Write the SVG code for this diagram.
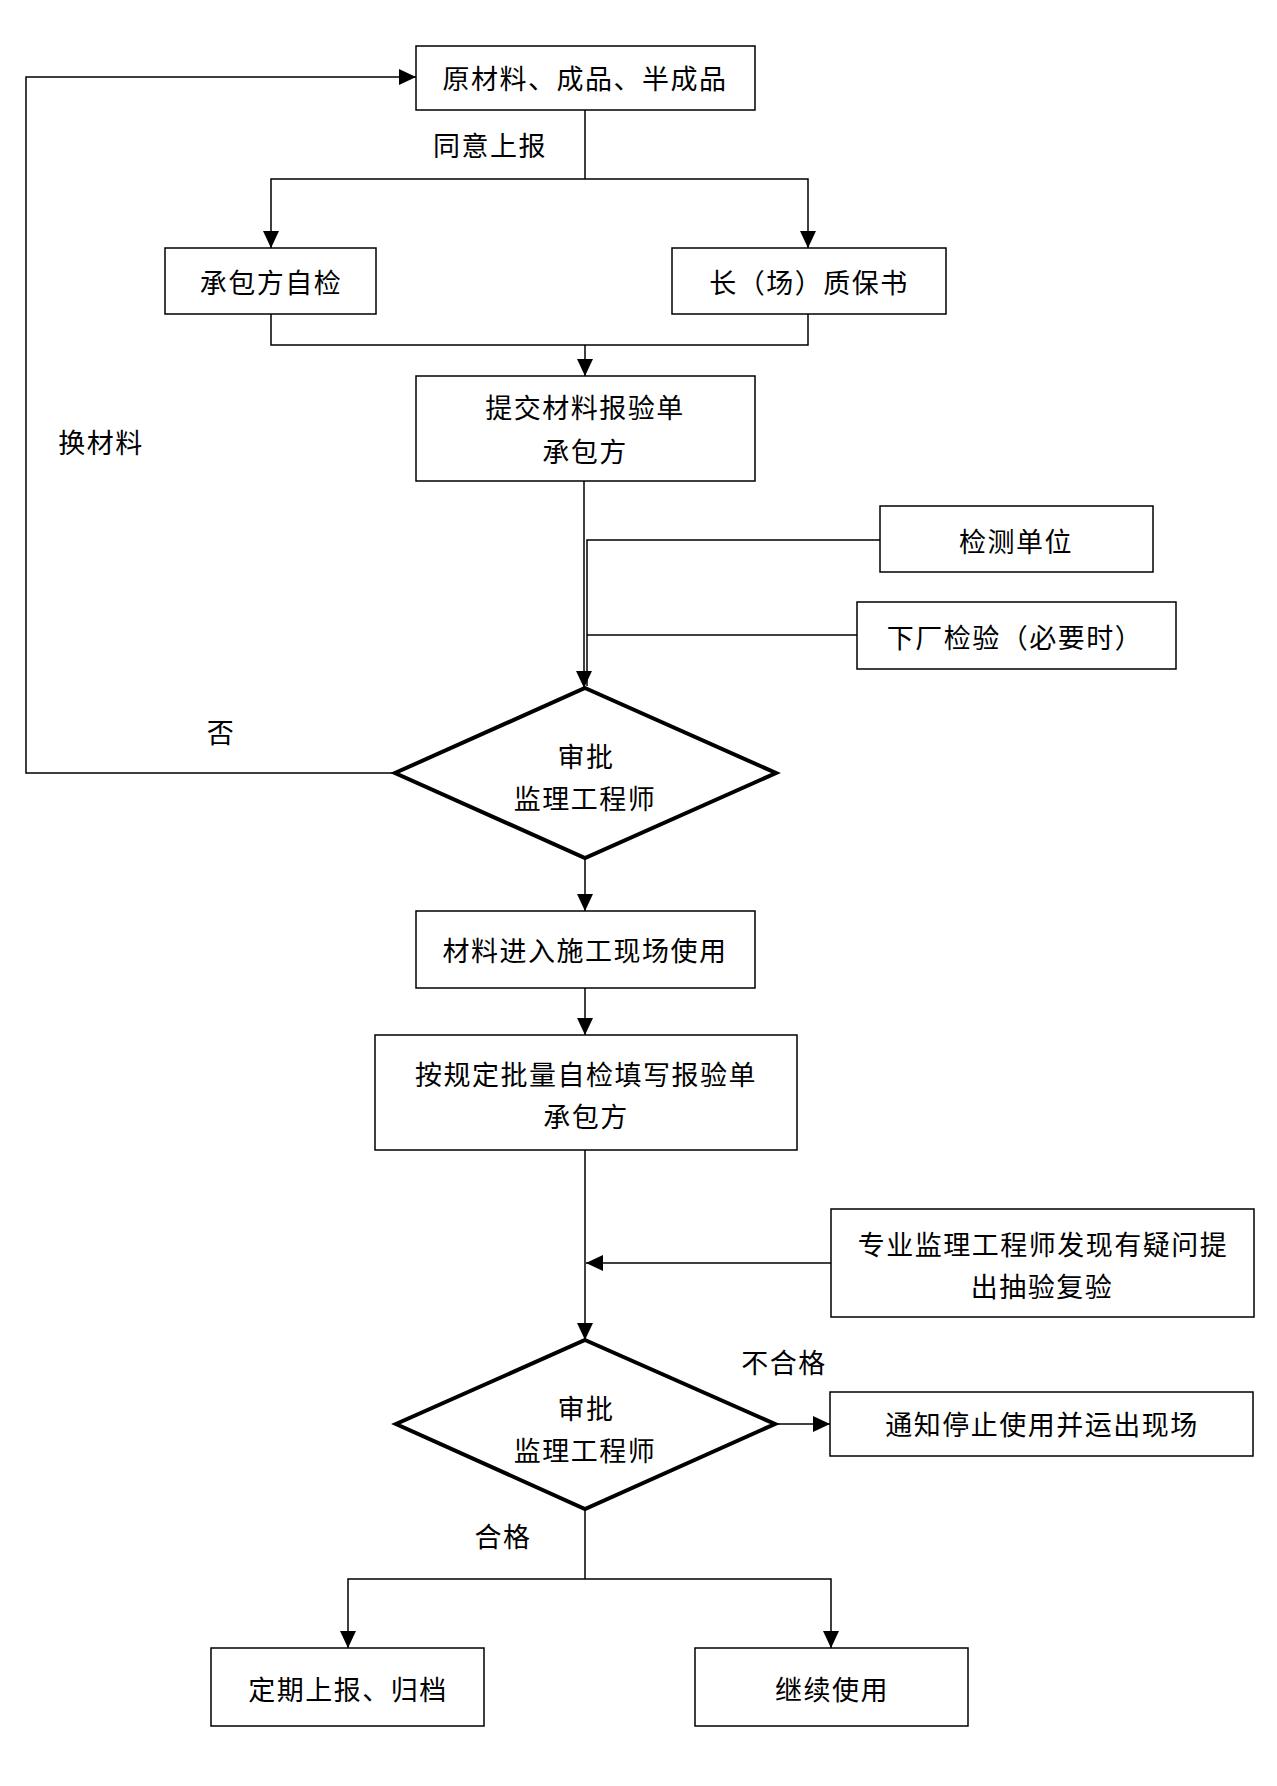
<svg xmlns="http://www.w3.org/2000/svg" width="1277" height="1786" viewBox="0 0 1277 1786">
<style>
.box{fill:#fff;stroke:#000;stroke-width:1.5}
.dia{fill:#fff;stroke:#000;stroke-width:4;stroke-linejoin:miter}
.ln{fill:none;stroke:#000;stroke-width:1.5}
.ar{fill:none;stroke:#000;stroke-width:1.5;marker-end:url(#ah)}
text{font-family:"Noto Sans CJK SC","Noto Sans",sans-serif;font-size:27px;letter-spacing:1.5px;text-anchor:middle;dominant-baseline:central;fill:#000}
</style>
<defs>
<marker id="ah" markerUnits="userSpaceOnUse" markerWidth="17" markerHeight="16" refX="17" refY="8" orient="auto">
<path d="M0,0 L17,8 L0,16 z" fill="#000"/>
</marker>
</defs>
<rect width="1277" height="1786" fill="#fff"/>
<g id="connectors">
<path class="ln" d="M585,110 V179"/>
<path class="ar" d="M585,179 H271 V248"/>
<path class="ar" d="M585,179 H808 V248"/>
<path class="ln" d="M271,314 V345 H808 V314"/>
<path class="ar" d="M585,345 V376"/>
<path class="ar" d="M584,481 V688"/>
<path class="ln" d="M880,540 H587 V686"/>
<path class="ln" d="M857,635 H587"/>
<path class="ar" d="M395,773 H26 V77 H416"/>
<path class="ar" d="M585,858 V911"/>
<path class="ar" d="M585,988 V1035"/>
<path class="ar" d="M585,1150 V1340"/>
<path class="ar" d="M831,1263 H586"/>
<path class="ar" d="M776,1424 H830"/>
<path class="ln" d="M585,1509 V1579"/>
<path class="ar" d="M585,1579 H348 V1648"/>
<path class="ar" d="M585,1579 H831 V1648"/>
</g>
<g id="labels">
<text x="490" y="144">同意上报</text>
<text x="101" y="441">换材料</text>
<text x="221" y="731">否</text>
<text x="784" y="1361">不合格</text>
<text x="503" y="1535">合格</text>
</g>
<g id="n1"><rect class="box" x="416" y="46" width="339" height="64"/><text x="585" y="77">原材料、成品、半成品</text></g>
<g id="n2"><rect class="box" x="165" y="248" width="211" height="66"/><text x="271" y="281">承包方自检</text></g>
<g id="n3"><rect class="box" x="672" y="248" width="274" height="66"/><text x="809" y="281">长（场）质保书</text></g>
<g id="n4"><rect class="box" x="416" y="376" width="339" height="105"/><text x="585" y="406">提交材料报验单</text><text x="585" y="450">承包方</text></g>
<g id="n5"><rect class="box" x="880" y="506" width="273" height="66"/><text x="1016" y="540">检测单位</text></g>
<g id="n6"><rect class="box" x="857" y="602" width="319" height="67"/><text x="1015" y="636">下厂检验（必要时）</text></g>
<g id="n7"><polygon class="dia" points="585,688 776,773 585,858 395,773"/><text x="586" y="755">审批</text><text x="585" y="797">监理工程师</text></g>
<g id="n8"><rect class="box" x="416" y="911" width="339" height="77"/><text x="585" y="949">材料进入施工现场使用</text></g>
<g id="n9"><rect class="box" x="375" y="1035" width="422" height="115"/><text x="586" y="1073">按规定批量自检填写报验单</text><text x="586" y="1115">承包方</text></g>
<g id="n10"><rect class="box" x="831" y="1209" width="423" height="108"/><text x="1043" y="1243">专业监理工程师发现有疑问提</text><text x="1042" y="1285">出抽验复验</text></g>
<g id="n11"><polygon class="dia" points="585,1340 775,1424 585,1509 396,1424"/><text x="586" y="1407">审批</text><text x="585" y="1449">监理工程师</text></g>
<g id="n12"><rect class="box" x="830" y="1392" width="423" height="64"/><text x="1042" y="1423">通知停止使用并运出现场</text></g>
<g id="n13"><rect class="box" x="211" y="1648" width="273" height="78"/><text x="348" y="1688">定期上报、归档</text></g>
<g id="n14"><rect class="box" x="695" y="1648" width="273" height="78"/><text x="832" y="1688">继续使用</text></g>
</svg>
